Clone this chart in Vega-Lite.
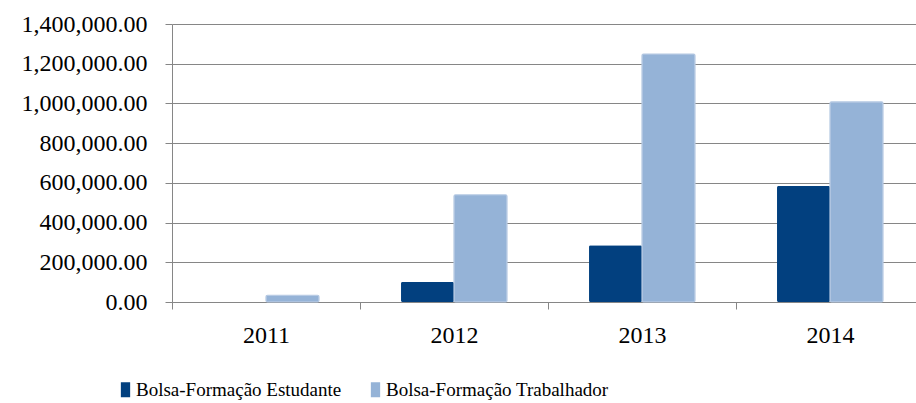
{
  "$schema": "https://vega.github.io/schema/vega-lite/v6.json",
  "width": 744,
  "height": 278,
  "autosize": {"type": "none"},
  "padding": {"left": 172, "top": 24, "right": 0, "bottom": 101},
  "background": "white",
  "config": {
    "view": {"stroke": null},
    "font": "Liberation Serif",
    "axis": {"labelFont": "Liberation Serif"},
    "legend": {"labelFont": "Liberation Serif"}
  },
  "data": {
    "values": [
      {"year": "2011", "serie": "Bolsa-Formação Estudante", "value": 0},
      {"year": "2011", "serie": "Bolsa-Formação Trabalhador", "value": 34000},
      {"year": "2012", "serie": "Bolsa-Formação Estudante", "value": 101000},
      {"year": "2012", "serie": "Bolsa-Formação Trabalhador", "value": 540000},
      {"year": "2013", "serie": "Bolsa-Formação Estudante", "value": 286000},
      {"year": "2013", "serie": "Bolsa-Formação Trabalhador", "value": 1249000},
      {"year": "2014", "serie": "Bolsa-Formação Estudante", "value": 584000},
      {"year": "2014", "serie": "Bolsa-Formação Trabalhador", "value": 1008000}
    ]
  },
  "mark": {"type": "bar", "strokeWidth": 1.2, "cornerRadius": 1.5},
  "encoding": {
    "x": {
      "field": "year",
      "type": "nominal",
      "scale": {"range": [0, 752], "paddingInner": 0, "paddingOuter": 0},
      "axis": {
        "title": null,
        "labelAngle": 0,
        "labelFont": "Liberation Serif",
        "labelFontSize": 24,
        "labelColor": "black",
        "labelPadding": 14,
        "tickBand": "extent",
        "ticks": true,
        "tickSize": 7,
        "tickColor": "#868686",
        "domain": true,
        "domainColor": "#868686"
      }
    },
    "xOffset": {
      "field": "serie",
      "type": "nominal",
      "scale": {"domain": ["Bolsa-Formação Estudante", "Bolsa-Formação Trabalhador"], "paddingInner": 0, "paddingOuter": 0.774}
    },
    "y": {
      "field": "value",
      "type": "quantitative",
      "scale": {"domain": [0, 1400000]},
      "axis": {
        "title": null,
        "values": [0, 200000, 400000, 600000, 800000, 1000000, 1200000, 1400000],
        "format": ",.2f",
        "labelFont": "Liberation Serif",
        "labelFontSize": 24,
        "labelColor": "black",
        "labelPadding": 18,
        "labelBaseline": "middle",
        "tickSize": 7,
        "tickColor": "#868686",
        "gridColor": "#868686",
        "domainColor": "#868686",
        "grid": true
      }
    },
    "stroke": {
      "field": "serie",
      "type": "nominal",
      "scale": {"domain": ["Bolsa-Formação Estudante", "Bolsa-Formação Trabalhador"], "range": ["rgba(0,0,0,0)", "#b4c8e2"]},
      "legend": null
    },
    "color": {
      "field": "serie",
      "type": "nominal",
      "scale": {"domain": ["Bolsa-Formação Estudante", "Bolsa-Formação Trabalhador"], "range": ["#02407f", "#95b3d7"]},
      "legend": {
        "title": null,
        "orient": "none",
        "legendX": -56,
        "legendY": 356,
        "direction": "horizontal",
        "labelFont": "Liberation Serif",
        "labelFontSize": 19,
        "labelLimit": 500,
        "labelColor": "black",
        "symbolType": "M-0.62,-1H0.62V1H-0.62Z",
        "symbolSize": 225,
        "symbolStrokeWidth": 0,
        "labelOffset": 1,
        "columnPadding": 24
      }
    }
  }
}
